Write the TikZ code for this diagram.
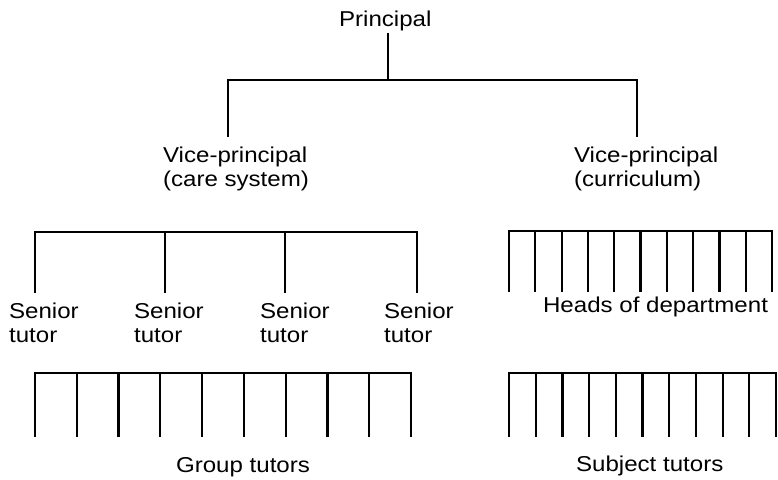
\documentclass[tikz,border=0pt]{standalone}
\usepackage{fontspec}
\setmainfont[FakeStretch=1.12]{Liberation Sans}
\begin{document}
\begin{tikzpicture}[x=1pt,y=-1pt,line width=2.2pt,line join=miter,
  lbl/.style={anchor=base west,inner sep=0pt,font=\fontsize{21.5}{24}\selectfont},
  twoline/.style={lbl}]
\useasboundingbox (0,0) rectangle (778,479);
% texts
\node[lbl] (prin) at (338,27) {Principal};
\node[twoline] (vpc) at (162,162) {\begin{tabular}[t]{@{}l@{}}Vice-principal\\(care system)\end{tabular}};
\node[twoline] (vpu) at (573,162) {\begin{tabular}[t]{@{}l@{}}Vice-principal\\(curriculum)\end{tabular}};
\node[twoline] (st1) at (8,318) {\begin{tabular}[t]{@{}l@{}}Senior\\tutor\end{tabular}};
\node[twoline] (st2) at (133,318) {\begin{tabular}[t]{@{}l@{}}Senior\\tutor\end{tabular}};
\node[twoline] (st3) at (259,318) {\begin{tabular}[t]{@{}l@{}}Senior\\tutor\end{tabular}};
\node[twoline] (st4) at (383,318) {\begin{tabular}[t]{@{}l@{}}Senior\\tutor\end{tabular}};
\node[lbl] (hod) at (542,312) {Heads of department};
\node[lbl] (gt) at (175,472) {Group tutors};
\node[lbl] (sjt) at (575,471) {Subject tutors};
% top tree
\coordinate (top) at (388,80);
\coordinate (vl) at (228,137);
\coordinate (vr) at (637,137);
\draw (prin.south -| top) -- (top);
\draw (vl) |- (top) -| (vr);
% senior tutor bracket
\coordinate (sa) at (35,293);
\coordinate (sb) at (417,293);
\draw (sa) |- (417,232) -- (sb);
\foreach \x in {165,285} \draw (\x,232) -- (\x,293);
% group tutors bracket
\coordinate (ga) at (35,437);
\coordinate (gb) at (411,437);
\draw (ga) |- (411,373) -- (gb);
\foreach \i in {1,...,8} \draw ({35+\i*41.78},373) -- ++(0,64);
% heads of department bracket
\coordinate (ha) at (509,292);
\coordinate (hb) at (772,292);
\draw (ha) |- (772,231) -- (hb);
\foreach \i in {1,...,9} \draw ({509+\i*26.3},231) -- ++(0,61);
% subject tutors bracket
\coordinate (sja) at (509,437);
\coordinate (sjb) at (776,437);
\draw (sja) |- (776,373) -- (sjb);
\foreach \i in {1,...,9} \draw ({509+\i*26.7},373) -- ++(0,64);
\end{tikzpicture}
\end{document}
